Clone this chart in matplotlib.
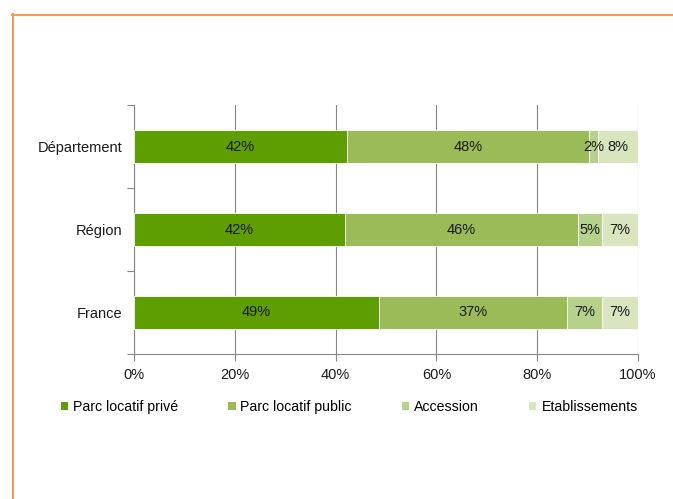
import matplotlib.pyplot as plt
from matplotlib.lines import Line2D
from matplotlib.patches import Patch

plt.rcParams['font.family'] = ['Liberation Sans', 'DejaVu Sans']

categories = ['France', 'Région', 'Département']
series = ['Parc locatif privé', 'Parc locatif public', 'Accession', 'Etablissements']
prive = [48.6, 41.9, 42.3]
public = [37.3, 46.2, 48.0]
accession = [7.0, 4.8, 1.8]
etab = [7.1, 7.1, 7.9]
labels = [['49%', '42%', '42%'],
          ['37%', '46%', '48%'],
          ['7%', '5%', '2%'],
          ['7%', '7%', '8%']]
colors = ['#5F9E00', '#9BBB59', '#B5D18B', '#D8E5BE']

fig = plt.figure(figsize=(6.73, 4.99), dpi=100)
ax = fig.add_axes([134 / 673, 1 - 354 / 499, 504 / 673, 249 / 499])

y = range(len(categories))
left = [0, 0, 0]
for vals, col, name, labs in zip([prive, public, accession, etab], colors, series, labels):
    ax.barh(y, vals, left=left, height=0.4, color=col, edgecolor='white', linewidth=0.6, label=name, zorder=3)
    for i, v in enumerate(vals):
        ax.text(left[i] + v / 2, i, labs[i], ha='center', va='center', fontsize=10.5, color='#1a1a1a', zorder=4)
    left = [l + v for l, v in zip(left, vals)]

ax.set_xlim(0, 100)
ax.set_ylim(-0.5, 2.5)
ax.set_xticks([0, 20, 40, 60, 80, 100])
ax.set_xticklabels(['0%', '20%', '40%', '60%', '80%', '100%'], fontsize=10.5, color='#1a1a1a')
ax.set_yticks([-0.5, 0.5, 1.5, 2.5])
ax.set_yticklabels([])
ax.set_yticks(list(y), minor=True)
ax.set_yticklabels(categories, minor=True, fontsize=10.5, color='#1a1a1a')
ax.tick_params(axis='y', which='minor', length=0, pad=8.5)
ax.tick_params(axis='y', which='major', length=5, color='#868686', direction='out')
ax.tick_params(axis='x', length=5, color='#868686', direction='out', pad=5)
ax.grid(axis='x', color='#868686', linewidth=0.8, zorder=0)
for s in ['top', 'right']:
    ax.spines[s].set_visible(False)
for s in ['left', 'bottom']:
    ax.spines[s].set_color('#868686')
    ax.spines[s].set_linewidth(0.8)

handles = [Patch(facecolor=c, edgecolor='none') for c in colors]
fig.legend(handles, series, loc='center left', bbox_to_anchor=(61 / 673, 1 - 407 / 499), ncol=4,
           frameon=False, fontsize=10.2, handlelength=0.5, handleheight=0.5, handletextpad=0.35,
           columnspacing=3.55, borderaxespad=0, borderpad=0)

# cadre orange
fig.add_artist(Line2D([12.5 / 673, 12.5 / 673], [0, 1 - 14 / 499], color='#F39A5C', linewidth=1.5))
fig.add_artist(Line2D([12 / 673, 1], [1 - 14.5 / 499, 1 - 14.5 / 499], color='#F39A5C', linewidth=1.5))

plt.savefig('out.png', dpi=100)
